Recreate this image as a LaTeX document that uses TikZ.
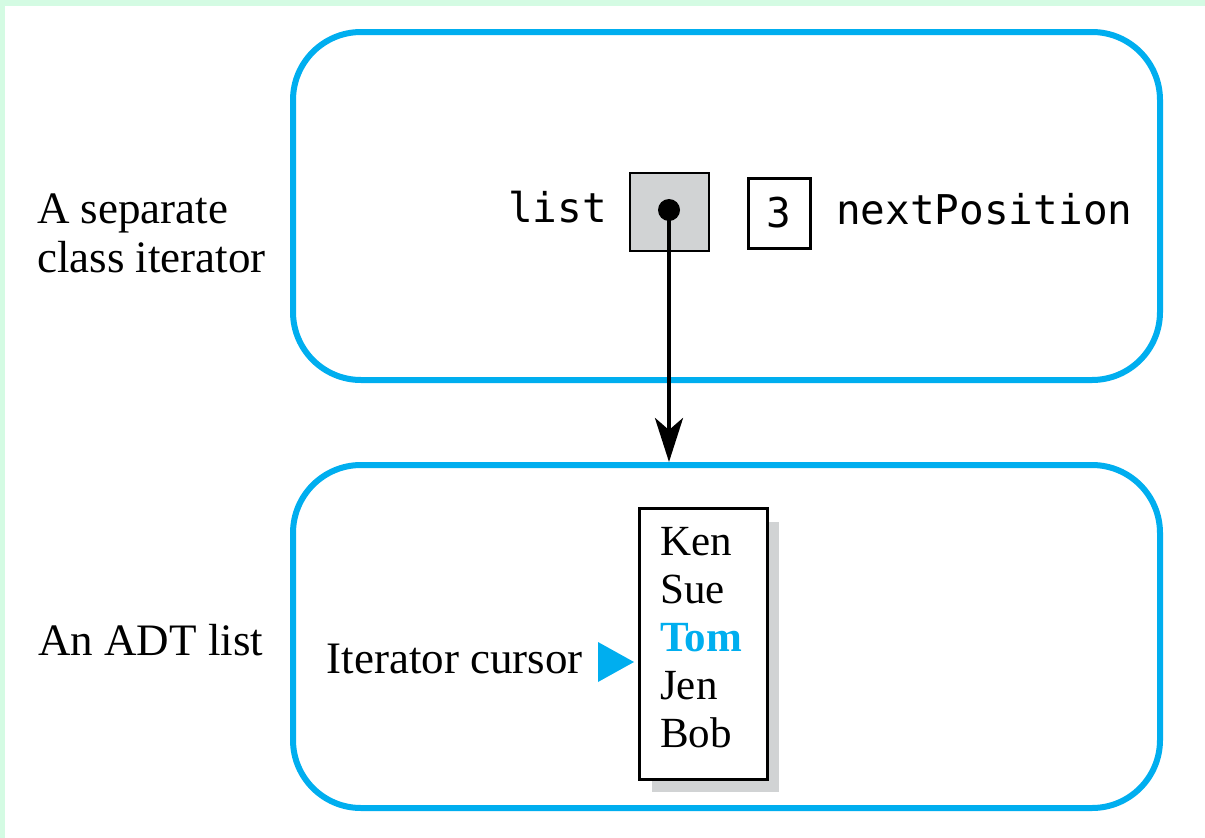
\documentclass[tikz,border=0pt]{standalone}
\usepackage{fontspec}
\setmainfont{Liberation Serif}
\newfontfamily\codefont{DejaVu Sans Mono}
\usetikzlibrary{arrows.meta}
\definecolor{frameblue}{HTML}{00AEEF}
\definecolor{cellgray}{HTML}{D1D3D4}
\definecolor{mint}{HTML}{D4FBE3}

\begin{document}
\begin{tikzpicture}[x=1pt,y=-1pt,
  panel/.style={draw=frameblue, line width=6pt, rounded corners=68pt, inner sep=0pt},
  caption/.style={font=\fontsize{45}{49}\selectfont, anchor=base west, inner sep=0pt},
  code/.style={font=\codefont\fontsize{41}{48}\selectfont, inner sep=0pt},
  entry/.style={font=\fontsize{43}{48}\selectfont, anchor=base west, inner sep=0pt},
  ]
% page background with its tinted top and left bands
\fill[mint] (0,0) rectangle (1205,838);
\fill[white] (5,5.5) rectangle (1205,838);
\useasboundingbox (0,0) rectangle (1205,838);

% the two rounded panels
\node[panel, minimum width=867pt, minimum height=348pt] (iter) at (726.5,206) {};
\node[panel, minimum width=867pt, minimum height=343pt] (adt) at (726.5,636.5) {};

% side captions
\node[caption] (cap1) at (37,223) {A separate};
\node[caption] (cap2) at (37,272) {class iterator};
\node[caption] (cap3) at (38,655) {An ADT list};

% iterator fields
\node[draw, fill=cellgray, line width=2.5pt, minimum width=79pt, minimum height=78pt] (cell) at (669.5,212) {};
\node[circle, fill=black, minimum size=22pt, inner sep=0pt] (dot) at (669,210) {};
\node[code, anchor=base east] (listlbl) at (607,222) {list};
\node[draw, line width=3pt, minimum width=62pt, minimum height=70pt, code] (count) at (779,213) {3};
\node[code, anchor=base west] (nextlbl) at (836,224) {nextPosition};

% reference from the iterator to the list
\draw[line width=4.5pt, -{Stealth[length=44pt,width=28pt,inset=12pt]}] (dot.center) -- (adt.north -| dot.center);

% the list with its drop shadow
\node[fill=cellgray, minimum width=127pt, minimum height=270pt, inner sep=0pt] (shadow) at (715.5,657) {};
\node[draw, fill=white, line width=3pt, minimum width=128pt, minimum height=271pt, inner sep=0pt] (names) at (703,643.5) {};
\node[entry] (ken) at (660,555) {Ken};
\node[entry] (sue) at (660,603) {Sue};
\node[entry, text=frameblue, font=\fontsize{43}{48}\selectfont\bfseries] (tom) at (660,651) {Tom};
\node[entry] (jen) at (660,699) {Jen};
\node[entry] (bob) at (660,747) {Bob};

% cursor marker
\fill[frameblue] (598,642) -- (634,662) -- (598,682) -- cycle;
\node[caption, anchor=base east] (cursor) at (583,673) {Iterator cursor};
\end{tikzpicture}
\end{document}
